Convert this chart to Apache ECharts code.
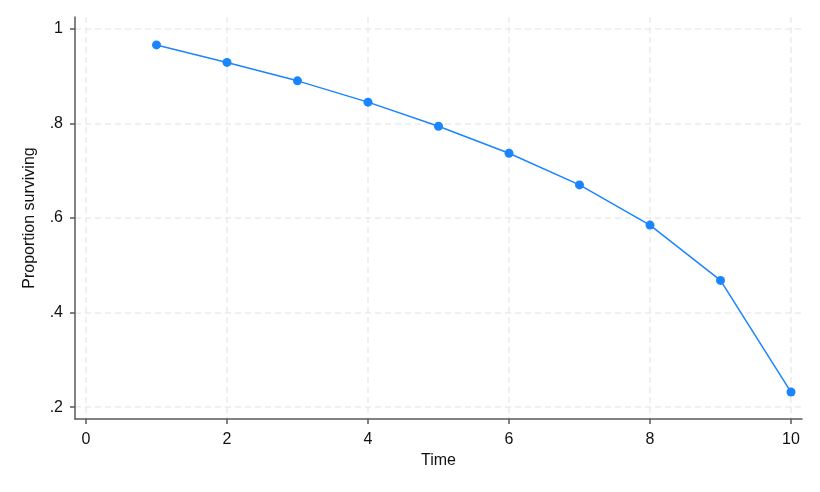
<!DOCTYPE html>
<html><head><meta charset="utf-8">
<script src="https://cdn.jsdelivr.net/npm/echarts@6/dist/echarts.min.js"></script>
<style>html,body{margin:0;padding:0;background:#fff}#c{width:820px;height:492px}</style>
</head><body><div id="c"></div>
<script>
const timeValues = [1, 2, 3, 4, 5, 6, 7, 8, 9, 10];
const survival = [0.966, 0.929, 0.890, 0.845, 0.794, 0.737, 0.670, 0.585, 0.468, 0.232];
const xTicks = [0, 2, 4, 6, 8, 10];
const yTicks = [0.2, 0.4, 0.6, 0.8, 1];

const chart = echarts.init(document.getElementById('c'), null, {renderer: 'canvas'});
const font = '"Liberation Sans", Arial, sans-serif';
const axisCommon = {
  axisLine: {show: true, onZero: false, lineStyle: {color: '#5a5a5a', width: 1.5}},
  axisTick: {show: true, length: 5, lineStyle: {color: '#5a5a5a', width: 1.5}},
  splitLine: {show: true, lineStyle: {color: '#ebebeb', type: [6, 4], width: 1.5}},
  nameTextStyle: {color: '#111', fontSize: 16, fontFamily: font}
};
chart.setOption({
  animation: false,
  grid: {left: 75, right: 18, top: 17, bottom: 73},
  xAxis: Object.assign({}, axisCommon, {
    type: 'value', min: -0.156, max: 10.156,
    name: 'Time', nameLocation: 'middle', nameGap: 34,
    axisTick: Object.assign({}, axisCommon.axisTick, {customValues: xTicks}),
    axisLabel: {customValues: xTicks, color: '#111', fontSize: 16, fontFamily: font, margin: 13}
  }),
  yAxis: Object.assign({}, axisCommon, {
    type: 'value', min: 0.175, max: 1.025,
    name: 'Proportion surviving', nameLocation: 'middle', nameGap: 37, nameRotate: 90,
    axisTick: Object.assign({}, axisCommon.axisTick, {customValues: yTicks}),
    axisLabel: {customValues: yTicks, color: '#111', fontSize: 16, fontFamily: font, margin: 12,
      formatter: v => (Math.round(v * 10) / 10).toString().replace(/^0\./, '.')}
  }),
  series: [{
    type: 'line',
    data: timeValues.map((t, i) => [t, survival[i]]),
    symbol: 'circle', symbolSize: 9,
    lineStyle: {color: '#1a85ff', width: 1.5},
    itemStyle: {color: '#1a85ff'}
  }]
});
</script></body></html>
